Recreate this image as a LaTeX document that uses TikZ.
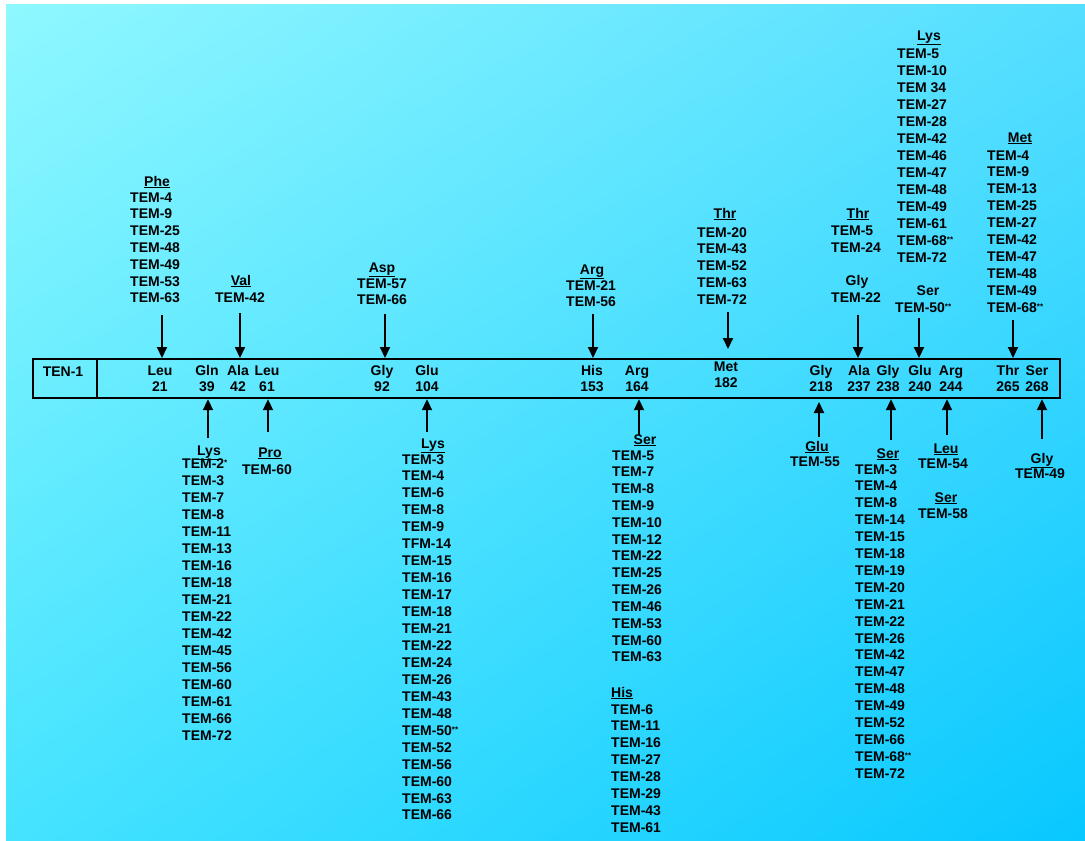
\documentclass[tikz,border=0pt]{standalone}
\usepackage{fontspec}
\setmainfont{Liberation Sans}
\usetikzlibrary{arrows.meta,shadings}
\definecolor{bgA}{HTML}{8FF8FF}
\definecolor{bgB}{HTML}{55DEFF}
\definecolor{bgC}{HTML}{45E3FF}
\definecolor{bgD}{HTML}{08C8FF}
\newcommand\sast{\raisebox{.35ex}{\fontsize{8}{8}\selectfont **}}
\newcommand\oneast{\raisebox{.35ex}{\fontsize{8}{8}\selectfont *}}
\newcommand\tlist[5]{\foreach \itm [count=\i] in {#5} {\node[lbl, anchor=base west] (#1\i) at (#2, {#3+5+(\i-1)*#4}) {\itm};}}
\newcommand\res[4]{\node[lbl, anchor=base] (#1n) at (#2, 375) {#3}; \node[lbl, anchor=base] (#1) at (#2, 391) {#4};}
\newcommand\hdr[4]{\node[lbl, anchor=base] (#1) at (#2, {#3+5}) {\underline{#4}};}
\newcommand\ctr[4]{\node[lbl, anchor=base] (#1) at (#2, {#3+5}) {#4};}
\begin{document}
\begin{tikzpicture}[x=1pt,y=-1pt,
  lbl/.style={font=\fontsize{14}{16}\selectfont\bfseries, inner sep=0pt},
  arr/.style={line width=2pt, -{Triangle[width=10pt,length=11pt]}},
  barbox/.style={draw, line width=2.2pt, inner sep=0pt}]
\fill[white] (0,0) rectangle (1085,841);
\shade[upper left=bgA, upper right=bgB, lower left=bgC, lower right=bgD] (6,4) rectangle (1085,841);
\useasboundingbox (0,0) rectangle (1085,841);

% the bar
\node[barbox, minimum width=1027pt, minimum height=39pt, anchor=north west] (bar) at (32,358) {};
\coordinate (dv) at (97,358);
\draw[line width=2.2pt] (dv) -- (dv |- bar.south);
\node[lbl] (ten) at (63,372) {TEN-1};

% residues
\res{r21}{160}{Leu}{21}
\res{r39}{207}{Gln}{39}
\res{r42}{238}{Ala}{42}
\res{r61}{267}{Leu}{61}
\res{r92}{382}{Gly}{92}
\res{r104}{427}{Glu}{104}
\res{r153}{592}{His}{153}
\res{r164}{637}{Arg}{164}
\node[lbl, anchor=base] (r182n) at (726,371) {Met};
\node[lbl, anchor=base] (r182) at (726,387) {182};
\res{r218}{821}{Gly}{218}
\res{r237}{859}{Ala}{237}
\res{r238}{888}{Gly}{238}
\res{r240}{920}{Glu}{240}
\res{r244}{951}{Arg}{244}
\res{r265}{1008}{Thr}{265}
\res{r268}{1037}{Ser}{268}

% ---------- top groups ----------
\hdr{hphe}{157}{181}{Phe}
\tlist{phe}{130}{197}{16.83}{TEM-4,TEM-9,TEM-25,TEM-48,TEM-49,TEM-53,TEM-63}

\hdr{hval}{241}{280}{Val}
\ctr{val1}{240}{297}{TEM-42}

\hdr{hasp}{382}{267}{Asp}
\tlist{asp}{357}{283}{16.5}{TEM-57,TEM-66}

\hdr{harg}{592}{269}{Arg}
\tlist{arg}{566}{285}{16.5}{TEM-21,TEM-56}

\hdr{hthr}{725}{213}{Thr}
\tlist{thr}{697}{232}{16.75}{TEM-20,TEM-43,TEM-52,TEM-63,TEM-72}

\hdr{hthrb}{858}{213}{Thr}
\tlist{thrb}{831}{230}{17}{TEM-5,TEM-24}
\ctr{hgly}{857}{280}{Gly}
\tlist{gly}{831}{297}{17}{TEM-22}

\hdr{hlys}{929}{35}{Lys}
\tlist{lys}{897}{53}{17}{TEM-5,TEM-10,TEM 34,TEM-27,TEM-28,TEM-42,TEM-46,TEM-47,TEM-48,TEM-49,TEM-61,TEM-68\sast,TEM-72}
\ctr{hser}{928}{290}{Ser}
\tlist{ser}{895}{307}{17}{TEM-50\sast}

\hdr{hmet}{1020}{137}{Met}
\tlist{met}{987}{155}{16.9}{TEM-4,TEM-9,TEM-13,TEM-25,TEM-27,TEM-42,TEM-47,TEM-48,TEM-49,TEM-68\sast}

% ---------- bottom groups ----------
\hdr{hlysb}{209}{450}{Lys}
\tlist{lysb}{182}{463}{17}{TEM-2\oneast,TEM-3,TEM-7,TEM-8,TEM-11,TEM-13,TEM-16,TEM-18,TEM-21,TEM-22,TEM-42,TEM-45,TEM-56,TEM-60,TEM-61,TEM-66,TEM-72}

\hdr{hpro}{270}{452}{Pro}
\ctr{pro1}{267}{469}{TEM-60}

\hdr{hlysc}{433}{443}{Lys}
\tlist{lysc}{402}{459}{16.95}{TEM-3,TEM-4,TEM-6,TEM-8,TEM-9,TFM-14,TEM-15,TEM-16,TEM-17,TEM-18,TEM-21,TEM-22,TEM-24,TEM-26,TEM-43,TEM-48,TEM-50\sast,TEM-52,TEM-56,TEM-60,TEM-63,TEM-66}

\hdr{hserb}{645}{439}{Ser}
\tlist{serb}{612}{455}{16.83}{TEM-5,TEM-7,TEM-8,TEM-9,TEM-10,TEM-12,TEM-22,TEM-25,TEM-26,TEM-46,TEM-53,TEM-60,TEM-63}
\node[lbl, anchor=base west] (hhis) at (611,697) {\underline{His}};
\tlist{his}{611}{709}{16.86}{TEM-6,TEM-11,TEM-16,TEM-27,TEM-28,TEM-29,TEM-43,TEM-61}

\hdr{hglu}{817}{446}{Glu}
\ctr{glu1}{815}{461}{TEM-55}

\hdr{hserc}{888}{453}{Ser}
\tlist{serc}{855}{469}{16.9}{TEM-3,TEM-4,TEM-8,TEM-14,TEM-15,TEM-18,TEM-19,TEM-20,TEM-21,TEM-22,TEM-26,TEM-42,TEM-47,TEM-48,TEM-49,TEM-52,TEM-66,TEM-68\sast,TEM-72}

\hdr{hleu}{946}{448}{Leu}
\ctr{leu1}{943}{463}{TEM-54}
\hdr{hserd}{946}{497}{Ser}
\ctr{serd1}{943}{513}{TEM-58}

\hdr{hglyb}{1042}{458}{Gly}
\ctr{glyb1}{1040}{473}{TEM-49}

% ---------- arrows ----------
\foreach \nm/\xx/\yy in {a21/162/315, a42/240/313, a92/385/314, a153/593/314, a237/858/315, a240/919/318, a265/1013/320}
  {\coordinate (\nm) at (\xx,\yy); \draw[arr] (\nm) -- (\nm |- bar.north);}
\coordinate (a182) at (728,312);
\coordinate (e182) at (728,349);
\draw[arr] (a182) -- (e182);

\foreach \nm/\xx/\yy in {b39/208/438, b61/268/432, b104/427/432, b164/639/435, b238/891/440, b244/947/435, b268/1042/439}
  {\coordinate (\nm) at (\xx,\yy); \draw[arr] (\nm) -- (\nm |- bar.south);}
\coordinate (b218) at (819,437);
\coordinate (e218) at (819,402);
\draw[arr] (b218) -- (e218);
\end{tikzpicture}
\end{document}
